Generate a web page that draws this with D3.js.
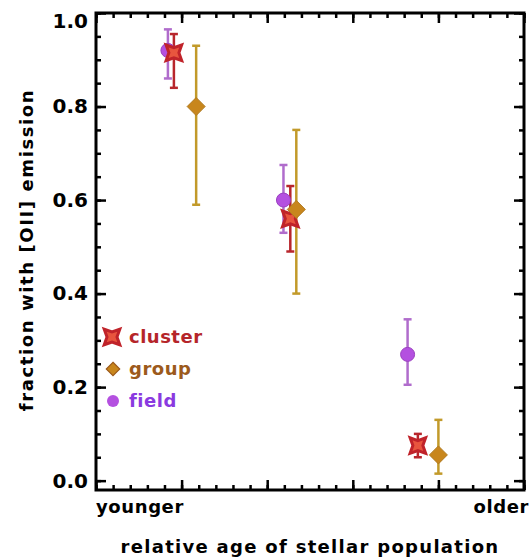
<!DOCTYPE html>
<html>
<head>
<meta charset="utf-8">
<script src="https://cdn.jsdelivr.net/npm/d3@7"></script>
<style>
  body { margin: 0; background: #fff; }
  text { font-family: "DejaVu Sans", sans-serif; font-weight: bold; }
</style>
</head>
<body>
<div id="chart"></div>
<script>
// x position on the (label-less) age axis, value, lower and upper error
const clusterX = [0.91, 2.27, 3.76];
const clusterY = [0.915, 0.56, 0.075];
const clusterLo = [0.84, 0.49, 0.05];
const clusterHi = [0.955, 0.63, 0.10];

const groupX = [1.17, 2.34, 4.0];
const groupY = [0.80, 0.58, 0.055];
const groupLo = [0.59, 0.40, 0.015];
const groupHi = [0.93, 0.75, 0.13];

const fieldX = [0.84, 2.19, 3.64];
const fieldY = [0.92, 0.60, 0.27];
const fieldLo = [0.86, 0.53, 0.205];
const fieldHi = [0.965, 0.675, 0.345];

const yTicks = [0.0, 0.2, 0.4, 0.6, 0.8, 1.0];
const xTicks = [0, 1, 2, 3, 4, 5];

const width = 530, height = 559;
const margin = {top: 13, right: 6, bottom: 69, left: 96};
const w = width - margin.left - margin.right;
const h = height - margin.top - margin.bottom;

const svg = d3.select("#chart").append("svg")
  .attr("width", width)
  .attr("height", height);

const g = svg.append("g").attr("transform", `translate(${margin.left},${margin.top})`);

const x = d3.scaleLinear().domain([0, 5]).range([0, w]);
const y = d3.scaleLinear().domain([-0.02, 1.0]).range([h, 0]);

// axes: major + minor ticks on all four sides, pointing inward
function styleAxis(sel) {
  sel.select(".domain").remove();
  sel.selectAll("line").attr("stroke", "#000").attr("stroke-width", 2.5);
}
const minorY = d3.range(0, 1.001, 0.05);
const minorX = d3.range(0, 5.001, 0.2);

g.append("g").attr("transform", `translate(0,${h})`)
  .call(d3.axisBottom(x).tickValues(minorX).tickSize(-5).tickFormat("")).call(styleAxis);
g.append("g").attr("transform", `translate(0,${h})`)
  .call(d3.axisBottom(x).tickValues(xTicks).tickSize(-10).tickFormat("")).call(styleAxis);
g.append("g")
  .call(d3.axisTop(x).tickValues(minorX).tickSize(-5).tickFormat("")).call(styleAxis);
g.append("g")
  .call(d3.axisTop(x).tickValues(xTicks).tickSize(-10).tickFormat("")).call(styleAxis);

g.append("g")
  .call(d3.axisLeft(y).tickValues(minorY).tickSize(-5).tickFormat("")).call(styleAxis);
const yAxis = g.append("g")
  .call(d3.axisLeft(y).tickValues(yTicks).tickSize(-10).tickPadding(8).tickFormat(d3.format(".1f")))
  .call(styleAxis);
yAxis.selectAll("text").attr("font-size", 20).attr("fill", "#000")
  .attr("dy", d => d === 1.0 ? "0.7em" : "0.32em");
g.append("g").attr("transform", `translate(${w},0)`)
  .call(d3.axisRight(y).tickValues(minorY).tickSize(-5).tickFormat("")).call(styleAxis);
g.append("g").attr("transform", `translate(${w},0)`)
  .call(d3.axisRight(y).tickValues(yTicks).tickSize(-10).tickFormat("")).call(styleAxis);

g.append("rect")
  .attr("width", w).attr("height", h)
  .attr("fill", "none").attr("stroke", "#000").attr("stroke-width", 3);

// end labels and titles
g.append("text").attr("x", 0).attr("y", h + 23)
  .attr("font-size", 18).attr("letter-spacing", 0.6).attr("fill", "#000").text("younger");
g.append("text").attr("x", w + 5).attr("y", h + 23).attr("text-anchor", "end")
  .attr("font-size", 18).attr("letter-spacing", 0.6).attr("fill", "#000").text("older");
svg.append("text").attr("x", 310).attr("y", 553).attr("text-anchor", "middle")
  .attr("font-size", 18).attr("letter-spacing", 1.3).attr("fill", "#000").text("relative age of stellar population");
svg.append("text").attr("transform", "translate(33,250) rotate(-90)").attr("text-anchor", "middle")
  .attr("font-size", 18).attr("letter-spacing", 1.6).attr("fill", "#000").text("fraction with [OII] emission");

// error bars
function errorBars(xs, los, his, color) {
  const bars = g.append("g");
  xs.forEach((xv, i) => {
    const px = x(xv);
    bars.append("line").attr("x1", px).attr("x2", px).attr("y1", y(los[i])).attr("y2", y(his[i]))
      .attr("stroke", color).attr("stroke-width", 2.5);
    [los[i], his[i]].forEach(v => {
      bars.append("line").attr("x1", px - 4).attr("x2", px + 4).attr("y1", y(v)).attr("y2", y(v))
        .attr("stroke", color).attr("stroke-width", 2.5);
    });
  });
}

const starPath = (function() {
  const pts = [];
  for (let k = 0; k < 8; k++) {
    const a = Math.PI / 4 + k * Math.PI / 4;
    const r = k % 2 === 0 ? 11 : 5;
    pts.push([r * Math.cos(a), r * Math.sin(a)]);
  }
  return "M" + pts.map(p => p.join(",")).join("L") + "Z";
})();
const diamondPath = "M0,-9L9,0L0,9L-9,0Z";

errorBars(fieldX, fieldLo, fieldHi, "#b06ccc");
errorBars(clusterX, clusterLo, clusterHi, "#b8262c");
errorBars(groupX, groupLo, groupHi, "#c29a2a");

// markers
g.append("g").selectAll("circle").data(fieldX).join("circle")
  .attr("cx", d => x(d)).attr("cy", (d, i) => y(fieldY[i])).attr("r", 7)
  .attr("fill", "#b450e0").attr("stroke", "#9a40c0").attr("stroke-width", 1);
g.append("g").selectAll("path").data(clusterX).join("path")
  .attr("transform", (d, i) => `translate(${x(d)},${y(clusterY[i])})`)
  .attr("d", starPath)
  .attr("fill", "#e8553e").attr("stroke", "#c0232a").attr("stroke-width", 3);
g.append("g").selectAll("path").data(groupX).join("path")
  .attr("transform", (d, i) => `translate(${x(d)},${y(groupY[i])})`)
  .attr("d", diamondPath)
  .attr("fill", "#c8861c").attr("stroke", "#b07a20").attr("stroke-width", 1);

// legend
const legend = svg.append("g");
const legendItems = [
  {label: "cluster", color: "#b5252a", y: 337},
  {label: "group", color: "#9c5a1c", y: 369},
  {label: "field", color: "#8a3ae0", y: 401}
];
legend.append("path").attr("transform", "translate(112,337)").attr("d", starPath)
  .attr("fill", "#e8553e").attr("stroke", "#c0232a").attr("stroke-width", 3);
legend.append("path").attr("transform", "translate(113,369) scale(0.75)").attr("d", diamondPath)
  .attr("fill", "#c8861c").attr("stroke", "#9c5a1c").attr("stroke-width", 1.5);
legend.append("circle").attr("cx", 113).attr("cy", 401).attr("r", 6).attr("fill", "#b450e0");
legend.selectAll("text").data(legendItems).join("text")
  .attr("x", 129).attr("y", d => d.y + 6)
  .attr("font-size", 18).attr("letter-spacing", 0.5).attr("fill", d => d.color).text(d => d.label);
</script>
</body>
</html>
